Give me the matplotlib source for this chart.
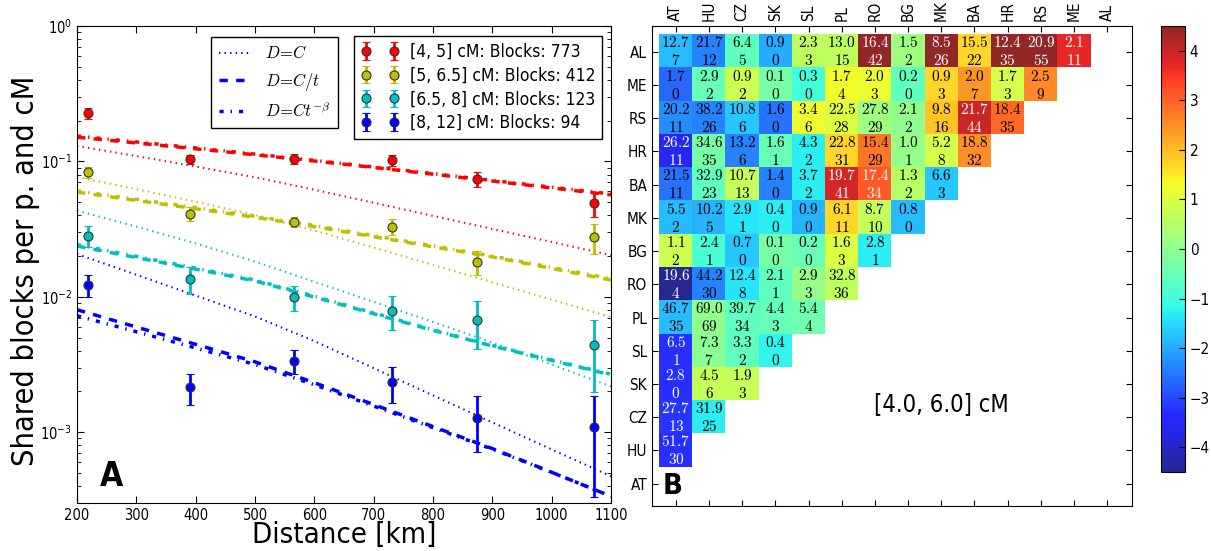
import numpy as np
import matplotlib
matplotlib.use("Agg")
import matplotlib.pyplot as plt

plt.rcParams.update({
    "font.family": "DejaVu Sans",
    "font.stretch": "condensed",
    "mathtext.fontset": "cm",
    "xtick.direction": "in",
    "ytick.direction": "in",
    "xtick.top": True,
    "ytick.right": True,
    "lines.scale_dashes": False,
    "legend.fancybox": False,
    "legend.framealpha": 1.0,
    "legend.edgecolor": "black",
})

# ---------------- Panel A: block sharing vs. distance ----------------
distance_km = [219, 390, 566, 731, 874, 1072]

bin_labels = [
    "[4, 5] cM: Blocks: 773",
    "[5, 6.5] cM: Blocks: 412",
    "[6.5, 8] cM: Blocks: 123",
    "[8, 12] cM: Blocks: 94",
]
bin_colors = ["r", "y", "c", "b"]

shared_4_5 = [0.227, 0.104, 0.105, 0.102, 0.0743, 0.0491]
shared_5_65 = [0.0832, 0.0412, 0.0358, 0.0330, 0.0182, 0.0276]
shared_65_8 = [0.0283, 0.0135, 0.00995, 0.00788, 0.00673, 0.00437]
shared_8_12 = [0.01227, 0.00214, 0.00335, 0.00233, 0.00128, 0.00109]

err_4_5 = [0.020, 0.0082, 0.0092, 0.010, 0.0094, 0.010]
err_5_65 = [0.0083, 0.0052, 0.0032, 0.0046, 0.0036, 0.0069]
err_65_8 = [0.0051, 0.0030, 0.0021, 0.0022, 0.0026, 0.0024]
err_8_12 = [0.0023, 0.00055, 0.00067, 0.0007, 0.00057, 0.00076]

# fitted model curves, sampled every 100 km
model_km = [200, 300, 400, 500, 600, 700, 800, 900, 1000, 1100]

const_4_5 = [0.130, 0.1096, 0.0916, 0.0764, 0.0618, 0.0495, 0.0396, 0.0317, 0.0254, 0.0203]
inv_t_4_5 = [0.151, 0.1368, 0.1239, 0.1119, 0.1007, 0.0902, 0.0805, 0.0716, 0.0637, 0.0566]
power_4_5 = [0.154, 0.1392, 0.1258, 0.1133, 0.1017, 0.0910, 0.0812, 0.0723, 0.0645, 0.0575]

const_5_65 = [0.0767, 0.0624, 0.0504, 0.0402, 0.0309, 0.0231, 0.0172, 0.0128, 0.00953, 0.00708]
inv_t_5_65 = [0.0593, 0.0515, 0.0447, 0.0387, 0.0330, 0.0278, 0.0234, 0.0197, 0.0162, 0.0133]
power_5_65 = [0.0605, 0.0525, 0.0456, 0.0394, 0.0336, 0.0283, 0.0238, 0.0200, 0.0165, 0.0136]

const_65_8 = [0.0433, 0.0330, 0.0248, 0.0182, 0.0129, 0.00918, 0.00652, 0.00459, 0.00316, 0.00218]
inv_t_65_8 = [0.0237, 0.0195, 0.0160, 0.0131, 0.00995, 0.0075, 0.00565, 0.00433, 0.00339, 0.00265]
power_65_8 = [0.0243, 0.0199, 0.0163, 0.0133, 0.0101, 0.0076, 0.0057, 0.00437, 0.00342, 0.00268]

const_8_12 = [0.0207, 0.01456, 0.0102, 0.00716, 0.00471, 0.00297, 0.00187, 0.00118, 0.000746, 0.000472]
inv_t_8_12 = [0.00803, 0.00598, 0.00446, 0.00331, 0.00232, 0.00160, 0.00110, 0.000757, 0.000506, 0.000336]
power_8_12 = [0.00724, 0.00552, 0.00419, 0.00316, 0.00224, 0.00156, 0.00108, 0.000750, 0.000505, 0.000337]

model_labels = [r"$D\!=\!C$", r"$D\!=\!C/t$", r"$D\!=\!Ct^{-\beta}$"]

# ---------------- Panel B: pairwise country sharing ----------------
row_codes = ["AL", "ME", "RS", "HR", "BA", "MK", "BG", "RO", "PL", "SL", "SK", "CZ", "HU", "AT"]
col_codes = ["AT", "HU", "CZ", "SK", "SL", "PL", "RO", "BG", "MK", "BA", "HR", "RS", "ME", "AL"]

expected_blocks = [
    [12.7, 21.7, 6.4, 0.9, 2.3, 13.0, 16.4, 1.5, 8.5, 15.5, 12.4, 20.9, 2.1],
    [1.7, 2.9, 0.9, 0.1, 0.3, 1.7, 2.0, 0.2, 0.9, 2.0, 1.7, 2.5],
    [20.2, 38.2, 10.8, 1.6, 3.4, 22.5, 27.8, 2.1, 9.8, 21.7, 18.4],
    [26.2, 34.6, 13.2, 1.6, 4.3, 22.8, 15.4, 1.0, 5.2, 18.8],
    [21.5, 32.9, 10.7, 1.4, 3.7, 19.7, 17.4, 1.3, 6.6],
    [5.5, 10.2, 2.9, 0.4, 0.9, 6.1, 8.7, 0.8],
    [1.1, 2.4, 0.7, 0.1, 0.2, 1.6, 2.8],
    [19.6, 44.2, 12.4, 2.1, 2.9, 32.8],
    [46.7, 69.0, 39.7, 4.4, 5.4],
    [6.5, 7.3, 3.3, 0.4],
    [2.8, 4.5, 1.9],
    [27.7, 31.9],
    [51.7],
]

observed_blocks = [
    [7, 12, 5, 0, 3, 15, 42, 2, 26, 22, 35, 55, 11],
    [0, 2, 2, 0, 0, 4, 3, 0, 3, 7, 3, 9],
    [11, 26, 6, 0, 6, 28, 29, 2, 16, 44, 35],
    [11, 35, 6, 1, 2, 31, 29, 1, 8, 32],
    [11, 23, 13, 0, 2, 41, 34, 2, 3],
    [2, 5, 1, 0, 0, 11, 10, 0],
    [2, 1, 0, 0, 0, 3, 1],
    [4, 30, 8, 1, 3, 36],
    [35, 69, 34, 3, 4],
    [1, 7, 2, 0],
    [0, 6, 3],
    [13, 25],
    [30],
]

deviation_score = [
    [-1.8, -2.4, -0.6, -2.0, 0.6, 0.6, 4.5, 0.2, 4.5, 1.7, 4.5, 4.5, 3.7],
    [-2.7, -0.5, 0.8, -0.3, -1.0, 1.3, 1.2, -0.6, 1.7, 2.4, 0.9, 2.6],
    [-2.3, -2.4, -1.7, -2.6, 1.2, 1.0, 0.2, 0.0, 1.9, 4.0, 2.95],
    [-3.6, -0.3, -2.4, -0.5, -1.3, 1.7, 2.8, 0.1, 0.9, 2.5],
    [-2.6, -0.6, 0.7, -2.4, -1.3, 3.9, 3.1, 0.5, -1.7],
    [-1.8, -1.9, -1.4, -1.3, -1.9, 1.7, 0.7, -1.8],
    [0.8, -0.9, -1.7, -0.3, -0.5, 1.0, -1.3],
    [-4.5, -2.4, -1.4, -0.6, 0.1, 0.6],
    [-1.8, 0.0, -0.6, -0.5, -0.4],
    [-3.3, -0.05, -0.6, -1.2],
    [-3.3, 0.7, 0.7],
    [-3.2, -1.3],
    [-3.3],
]

length_range_label = "[4.0, 6.0] cM"

# ---------------- figure ----------------
fig = plt.figure(figsize=(12.11, 5.51), dpi=100)
axA = fig.add_axes([0.0636, 0.0871, 0.4410, 0.8657])
axB = fig.add_axes([0.5384, 0.0817, 0.3964, 0.8711])
cax = fig.add_axes([0.9587, 0.1434, 0.0198, 0.8094])

shared = [shared_4_5, shared_5_65, shared_65_8, shared_8_12]
errors = [err_4_5, err_5_65, err_65_8, err_8_12]
const_fits = [const_4_5, const_5_65, const_65_8, const_8_12]
inv_t_fits = [inv_t_4_5, inv_t_5_65, inv_t_65_8, inv_t_8_12]
power_fits = [power_4_5, power_5_65, power_65_8, power_8_12]

dotted = (0, (1, 3))
dashed = (0, (6, 6))
dashdot = (0, (3, 5, 1, 5))

data_handles = []
for col, lab, y, e, fc, ft, fp in zip(bin_colors, bin_labels, shared, errors,
                                      const_fits, inv_t_fits, power_fits):
    axA.plot(model_km, fc, color=col, linestyle=dotted, linewidth=1.5)
    axA.plot(model_km, ft, color=col, linestyle=dashed, linewidth=2.5)
    axA.plot(model_km, fp, color=col, linestyle=dashdot, linewidth=2.5)
    h = axA.errorbar(distance_km, y, yerr=e, fmt="o", color=col, ecolor=col,
                     markersize=6.5, markeredgecolor="#333333", markeredgewidth=0.8,
                     elinewidth=2, capsize=3, capthick=1.5, label=lab)
    data_handles.append(h)

axA.set_yscale("log")
axA.set_xlim(200, 1100)
axA.set_ylim(3e-4, 1)
axA.set_xticks(range(200, 1101, 100))
axA.tick_params(labelsize=10.5)
axA.tick_params(which="major", length=5)
axA.tick_params(which="minor", length=3)
axA.set_xlabel("Distance [km]", fontsize=21, labelpad=-1)
axA.set_ylabel("Shared blocks per p. and cM", fontsize=22)
axA.yaxis.set_label_coords(-0.069, 0.486)

style_handles = [
    plt.Line2D([], [], color="b", linestyle=dotted, linewidth=1.5),
    plt.Line2D([], [], color="b", linestyle=dashed, linewidth=2.5),
    plt.Line2D([], [], color="b", linestyle=dashdot, linewidth=2.5),
]
leg1 = axA.legend(style_handles, model_labels, loc="upper left",
                  bbox_to_anchor=(0.251, 0.977), fontsize=12, handlelength=1.8,
                  handletextpad=1.0, labelspacing=0.5, borderaxespad=0,
                  borderpad=0.45)
axA.add_artist(leg1)
axA.legend(data_handles, bin_labels, loc="upper right", numpoints=2,
           bbox_to_anchor=(0.983, 0.979), fontsize=12.5, handlelength=2.2,
           handletextpad=0.6, labelspacing=0.33, borderaxespad=0, borderpad=0.4)
axA.text(0.043, 0.022, "A", transform=axA.transAxes, fontsize=24,
         fontweight="bold", ha="left", va="bottom")

# heatmap
n = len(row_codes)
grid = np.full((n, len(col_codes)), np.nan)
for r, row in enumerate(deviation_score):
    grid[r, :len(row)] = row
im = axB.imshow(np.ma.masked_invalid(grid), cmap="jet", vmin=-4.5, vmax=4.5,
                alpha=0.85, interpolation="nearest", aspect="auto")

for r, (vals, cnts, zs) in enumerate(zip(expected_blocks, observed_blocks, deviation_score)):
    for c, (v, k, z) in enumerate(zip(vals, cnts, zs)):
        tc = "white" if abs(z) > 3 else "black"
        axB.text(c, r - 0.26, f"${v:.1f}$", ha="center", va="center",
                 fontsize=11, color=tc)
        axB.text(c, r + 0.28, f"${k}$", ha="center", va="center",
                 fontsize=11, color=tc)

axB.set_xlim(-0.72, 13.75)
axB.set_ylim(13.67, -0.77)
axB.set_xticks(range(len(col_codes)))
axB.set_xticklabels(col_codes, rotation=90)
axB.set_yticks(range(n))
axB.set_yticklabels(row_codes)
axB.tick_params(axis="x", top=True, bottom=True, labeltop=True,
                labelbottom=False, labelsize=11, length=4)
axB.tick_params(axis="y", left=True, right=True, labelsize=11, length=4)
axB.text(0.602, 0.2125, length_range_label, transform=axB.transAxes,
         fontsize=17, ha="center", va="center")
axB.text(0.023, 0.012, "B", transform=axB.transAxes, fontsize=21,
         fontweight="bold", ha="left", va="bottom")

cb = fig.colorbar(im, cax=cax, ticks=range(-4, 5))
cb.ax.tick_params(labelsize=11, direction="in", length=4)

fig.savefig("out.png", dpi=100)
